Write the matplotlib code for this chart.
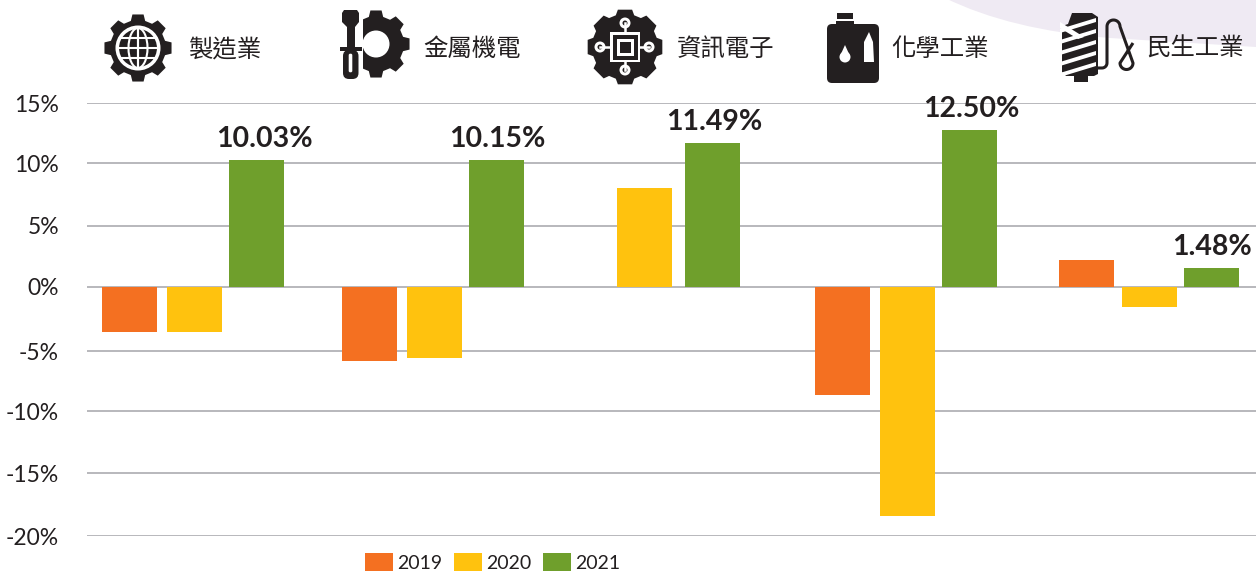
import numpy as np
import matplotlib
matplotlib.use("Agg")
import matplotlib.pyplot as plt
from matplotlib.patches import Polygon, Circle, Rectangle, Ellipse, FancyBboxPatch, PathPatch
from matplotlib.path import Path

# ---- data ----
categories = ["製造業", "金屬機電", "資訊電子", "化學工業", "民生工業"]
years = ["2019", "2020", "2021"]
values_2019 = [-3.5, -5.8, 0.0, -8.7, 2.2]
values_2020 = [-3.5, -5.6, 8.0, -18.4, -1.6]
values_2021 = [10.3, 10.3, 11.7, 12.8, 1.5]
labels_2021 = ["10.03%", "10.15%", "11.49%", "12.50%", "1.48%"]
y_ticks = [15, 10, 5, 0, -5, -10, -15, -20]

# ---- layout / style (pixels) ----
W, H = 1256, 573
PX = 72 / 100
INK = "#231F20"
colors = ["#F47021", "#FFC20E", "#6F9F2C"]
bar_x = [[129.5, 369.5, 579.5, 842.5, 1086.5],
         [194.5, 434.5, 644.5, 907.5, 1149.5],
         [256.5, 496.5, 712.5, 969.5, 1211.5]]
bar_w = 55
label_dx = [7.5, 0.5, 1.5, 1.5, 0.5]
cat_x = [188, 423, 677, 891, 1146]
# the source's gridlines are not quite evenly spaced
grid_px = [103.3, 163.3, 225.7, 286.8, 351.3, 411.0, 473.3, 536.3]
NUM = ["Lato", "DejaVu Sans"]
CJK = ["Noto Sans CJK TC", "DejaVu Sans"]

fig = plt.figure(figsize=(W / 100, H / 100), dpi=100, facecolor="white")

# decoration layer in pixel coordinates
bg = fig.add_axes([0, 0, 1, 1], zorder=0)
bg.set_xlim(0, W); bg.set_ylim(H, 0); bg.axis("off")
bg.add_patch(PathPatch(Path([(945, -2), (1010, 30), (1110, 38), (1256, 47), (1258, -2), (945, -2)],
                            [Path.MOVETO, Path.CURVE3, Path.CURVE3, Path.LINETO, Path.LINETO, Path.CLOSEPOLY]),
                       fc="#EFEAF3", ec="none"))

# chart
ax = fig.add_axes([87 / W, 1 - 536.3 / H, (W - 87) / W, (536.3 - 103.3) / H], zorder=1)
ax.patch.set_alpha(0)
ax.set_xlim(87, W)
tick_up = np.array(y_ticks[::-1], dtype=float)
px_up = -np.array(grid_px[::-1])


def _fwd(v):
    v = np.asarray(v, dtype=float)
    return np.where(v < tick_up[0], px_up[0] + (v - tick_up[0]) * 12.4,
                    np.where(v > tick_up[-1], px_up[-1] + (v - tick_up[-1]) * 12.4,
                             np.interp(v, tick_up, px_up)))


def _inv(p):
    p = np.asarray(p, dtype=float)
    return np.where(p < px_up[0], tick_up[0] + (p - px_up[0]) / 12.4,
                    np.where(p > px_up[-1], tick_up[-1] + (p - px_up[-1]) / 12.4,
                             np.interp(p, px_up, tick_up)))


ax.set_yscale("function", functions=(_fwd, _inv))
ax.set_ylim(-20, 15)
for spine in ax.spines.values():
    spine.set_visible(False)
ax.set_yticks(y_ticks)
ax.set_yticklabels([f"{t}%" for t in y_ticks], fontsize=16.5, family=NUM, color=INK)
ax.minorticks_off()
ax.set_xticks([])
ax.tick_params(axis="y", length=0, pad=28 * PX)
ax.grid(axis="y", color="#B9B9BD", lw=2 * PX, zorder=0)
ax.set_axisbelow(True)
handles = []
for xs, vals, col, yr in zip(bar_x, [values_2019, values_2020, values_2021], colors, years):
    handles.append(ax.bar(xs, vals, width=bar_w, color=col, label=yr, zorder=2))

for x, v, lab, dx in zip(bar_x[2], values_2021, labels_2021, label_dx):
    ax.annotate(lab, (x, v), xytext=(dx * PX, 21 * PX), textcoords="offset points",
                ha="center", va="center", fontsize=20.5, fontweight="bold", family=NUM,
                color=INK, zorder=3)

leg = ax.legend(handles=handles, ncol=3, loc="lower left", frameon=False,
                bbox_to_anchor=(365 / W, 1 / H), bbox_transform=fig.transFigure,
                prop={"family": NUM, "size": 14}, labelcolor=INK,
                borderpad=0, borderaxespad=0, handlelength=28 * PX / 14, handleheight=20 * PX / 14,
                handletextpad=4 * PX / 14, columnspacing=12 * PX / 14, labelspacing=0)

# icons and category names
ov = fig.add_axes([0, 0, 1, 1], zorder=2)
ov.set_xlim(0, W); ov.set_ylim(H, 0); ov.axis("off")


def gear(cx, cy, R, r, n=8, rot=0.0, tip=0.21, root=0.33, color=INK):
    pts = []
    s = 2 * np.pi / n
    for i in range(n):
        a = rot + s * i
        for da, rad in [(-root, r), (-tip, R), (tip, R), (root, r)]:
            t = a + da * s
            pts.append((cx + rad * np.cos(t), cy + rad * np.sin(t)))
    ov.add_patch(Polygon(pts, closed=True, fc=color, ec="none"))


# globe gear
gear(138, 48, 34, 28)
ov.add_patch(Circle((138, 48), 22.5, fc="white", ec="none"))
ov.add_patch(Circle((138, 48), 20, fc=INK, ec="none"))
for w in (0.05, 9.5, 20):
    ov.add_patch(Ellipse((138, 48), w * 2, 40, fc="none", ec="white", lw=1.5))
for dy in (-10, 0, 10):
    half = np.sqrt(20 ** 2 - dy ** 2)
    ov.plot([138 - half, 138 + half], [48 + dy] * 2, color="white", lw=1.5)

# screwdriver gear
gear(376, 44, 34, 28)
ov.add_patch(Circle((376, 44), 13.5, fc="white", ec="none"))
ov.add_patch(Rectangle((334, 6), 28.5, 78, fc="white", ec="none"))
ov.add_patch(Polygon([(344, 10), (357, 10), (359, 13), (359, 22), (355, 27), (355, 47),
                      (347, 47), (347, 27), (342, 22), (342, 13)], closed=True, fc=INK, ec="none"))
ov.add_patch(Rectangle((340, 47), 22, 3.5, fc=INK, ec="none"))
ov.add_patch(FancyBboxPatch((347, 54), 7.5, 21, boxstyle="round,pad=4,rounding_size=6", fc=INK, ec="none"))
ov.add_patch(FancyBboxPatch((349, 54), 3, 18, boxstyle="round,pad=0.3,rounding_size=1.5", fc="white", ec="none"))

# circuit gear
gear(625, 47, 38, 33, tip=0.24, root=0.36)
for x0, y0, x1, y1 in [(625, 32, 625, 23), (625, 62, 625, 70), (610, 47, 600, 47), (640, 47, 649, 47)]:
    ov.plot([x0, x1], [y0, y1], color="white", lw=1.8)
    ov.add_patch(Circle((x1, y1), 5.5, fc="white", ec="none"))
    ov.add_patch(Circle((x1, y1), 2.5, fc=INK, ec="none"))
for half, col in [(15, "white"), (12.5, INK), (8.5, "white"), (5.5, INK)]:
    ov.add_patch(Rectangle((625 - half, 47 - half), 2 * half, 2 * half, fc=col, ec="none"))

# bottle
ov.add_patch(Rectangle((837, 13), 16, 6, fc=INK, ec="none"))
ov.add_patch(Rectangle((836, 21), 18, 5, fc=INK, ec="none"))
ov.add_patch(FancyBboxPatch((830, 27), 46, 53, boxstyle="round,pad=3,rounding_size=5", fc=INK, ec="none"))
ov.add_patch(Circle((845, 57), 5.5, fc="white", ec="none"))
ov.add_patch(Polygon([(840.5, 55), (845, 45), (849.5, 55)], closed=True, fc="white", ec="none"))
ov.add_patch(Polygon([(864, 62), (864, 42), (869, 32), (873, 42), (874, 62)], closed=True, fc="white", ec="none"))

# thread spool
ov.add_patch(Polygon([(1072, 13), (1092, 13), (1098, 17), (1098, 74), (1094, 76), (1088, 76), (1088, 82),
                      (1074, 82), (1074, 76), (1066, 76), (1062, 72), (1062, 26), (1068, 24)],
                     closed=True, fc=INK, ec="none"))
for y in (26, 37, 48, 59, 70):
    ov.add_patch(Polygon([(1060, y + 3), (1096, y - 8), (1096, y - 4), (1060, y + 7)],
                         closed=True, fc="white", ec="none"))
ov.add_patch(Polygon([(1060, 22), (1084, 37), (1078, 39), (1060, 28)], closed=True, fc="white", ec="none"))
th = np.linspace(np.pi, 0, 24)
tx = np.concatenate([[1098], 1102 + 5 * np.sin(np.linspace(0, np.pi / 2, 8)),
                     1113.5 + 6.5 * np.cos(th), 1126.5 + 6.5 * np.cos(th[::-1] - 0) * -1 * -1])
ty = np.concatenate([[68], 68 - 5 * (1 - np.cos(np.linspace(0, np.pi / 2, 8))) + 0,
                     26.5 - 6.5 * np.sin(th), 63 + 6.5 * np.sin(th)])
tx = np.concatenate([tx, [1133]])
ty = np.concatenate([ty, [43]])
ov.plot(tx, ty, color=INK, lw=2.2, solid_capstyle="butt")

for x, c in zip(cat_x, categories):
    ov.text(x, 49, c, fontsize=17.6, family=CJK, color=INK, ha="left", va="center")

fig.savefig("out.png", dpi=100, facecolor="white")
